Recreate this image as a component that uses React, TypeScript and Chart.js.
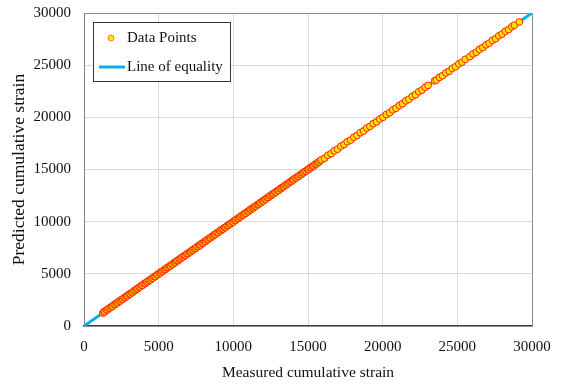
import React, { useEffect, useRef } from "react";
import { Chart, registerables } from "chart.js";

Chart.register(...registerables);

const measured = [
  1260, 1340, 1400, 1500, 1590, 1670, 1750, 1840, 1920, 2010, 2090, 2170, 2260, 2340, 2430, 2510, 2600, 2680, 2760, 2850,
  2930, 3020, 3100, 3190, 3270, 3350, 3440, 3520, 3610, 3690, 3770, 3860, 3940, 4030, 4110, 4190, 4280, 4360, 4450, 4530,
  4620, 4700, 4780, 4870, 4950, 5040, 5120, 5200, 5290, 5370, 5460, 5540, 5630, 5710, 5790, 5880, 5960, 6050, 6130, 6210,
  6300, 6380, 6470, 6550, 6640, 6720, 6800, 6890, 6970, 7060, 7140, 7220, 7310, 7390, 7480, 7560, 7650, 7730, 7810, 7900,
  7980, 8070, 8150, 8230, 8320, 8400, 8490, 8570, 8660, 8740, 8820, 8910, 8990, 9080, 9160, 9240, 9330, 9410, 9500, 9580,
  9670, 9750, 9830, 9920, 10000, 10090, 10170, 10250, 10340, 10420, 10510, 10590, 10680, 10760, 10840, 10930, 11010, 11100, 11180, 11260,
  11350, 11430, 11520, 11600, 11690, 11770, 11850, 11940, 12020, 12110, 12190, 12270, 12360, 12440, 12530, 12610, 12700, 12780, 12860, 12950,
  13030, 13120, 13200, 13280, 13370, 13450, 13540, 13620, 13710, 13790, 13870, 13960, 14040, 14130, 14210, 14290, 14380, 14460, 14550, 14630,
  14720, 14800, 14880, 14970, 15050, 15140, 15220, 15300, 15390, 15470, 15560, 15640, 15730, 15810,
  15900, 16110, 16330, 16540, 16760, 16980, 17200, 17410, 17630, 17850, 18070, 18280, 18500, 18720, 18940, 19150, 19370, 19590, 19810, 20020,
  20240, 20460, 20680, 20890, 21110, 21330, 21550, 21760, 21980, 22200, 22420, 22630, 22850, 23040,
  23480, 23600, 23800, 24010, 24230, 24450, 24660, 24880, 25100, 25310, 25530,
  25840, 26050, 26270, 26480, 26700, 26920, 27130, 27350, 27570, 27780, 28000, 28220, 28430, 28650, 28820, 29150,
];

const predicted = [
  1240, 1370, 1360, 1530, 1570, 1700, 1730, 1860, 1890, 2040, 2070, 2200, 2230, 2370, 2400, 2540, 2570, 2710, 2740, 2880,
  2900, 3050, 3080, 3210, 3240, 3380, 3420, 3550, 3580, 3720, 3750, 3890, 3910, 4060, 4080, 4220, 4250, 4390, 4420, 4560,
  4600, 4730, 4750, 4900, 4920, 5070, 5090, 5230, 5260, 5400, 5430, 5570, 5600, 5740, 5760, 5910, 5930, 6080, 6100, 6240,
  6270, 6410, 6440, 6580, 6610, 6750, 6770, 6920, 6940, 7090, 7110, 7250, 7280, 7420, 7450, 7590, 7620, 7760, 7780, 7930,
  7950, 8100, 8120, 8260, 8290, 8430, 8460, 8600, 8630, 8770, 8790, 8940, 8960, 9110, 9130, 9270, 9300, 9440, 9470, 9610,
  9640, 9780, 9800, 9950, 9970, 10120, 10140, 10280, 10310, 10450, 10480, 10620, 10650, 10790, 10810, 10960, 10980, 11130, 11150, 11290,
  11320, 11460, 11490, 11630, 11660, 11800, 11820, 11970, 11990, 12140, 12160, 12300, 12330, 12470, 12500, 12640, 12670, 12810, 12830, 12980,
  13000, 13150, 13170, 13310, 13340, 13480, 13510, 13650, 13680, 13820, 13840, 13990, 14010, 14160, 14180, 14320, 14350, 14490, 14520, 14660,
  14690, 14830, 14850, 15000, 15020, 15170, 15190, 15330, 15360, 15500, 15530, 15670, 15700, 15840,
  15930, 16080, 16360, 16520, 16790, 16950, 17230, 17390, 17660, 17820, 18100, 18260, 18530, 18690, 18970, 19130, 19400, 19560, 19840, 20000,
  20270, 20430, 20710, 20870, 21140, 21300, 21580, 21740, 22010, 22170, 22450, 22610, 22880, 23060,
  23500, 23580, 23830, 23990, 24260, 24420, 24690, 24850, 25130, 25290, 25560,
  25820, 26080, 26240, 26510, 26680, 26950, 27110, 27380, 27540, 27810, 27980, 28250, 28410, 28680, 28840, 29140,
];

const equalityX = [0, 30000];
const equalityY = [0, 30000];

const seriesNames = ["Data Points", "Line of equality"];
const xTitle = "Measured cumulative strain";
const yTitle = "Predicted cumulative strain";

const FONT = "'Liberation Serif', 'Times New Roman', serif";
const POINT_FILL = "#FFE400";
const POINT_EDGE = "#FF2400";
const LINE_COLOR = "#00B0F0";

const framePlugin = {
  id: "frameAndLegend",
  afterDraw(chart: any) {
    const ctx = chart.ctx as CanvasRenderingContext2D;
    const { left, top, right, bottom } = chart.chartArea;
    ctx.save();
    ctx.strokeStyle = "#8c8c8c";
    ctx.lineWidth = 1;
    ctx.beginPath();
    ctx.moveTo(left, Math.round(top) + 0.5);
    ctx.lineTo(Math.round(right) + 0.5, Math.round(top) + 0.5);
    ctx.lineTo(Math.round(right) + 0.5, bottom);
    ctx.stroke();

    const bx = left + 9.5;
    const by = top + 9.5;
    const bw = 137;
    const bh = 59;
    ctx.fillStyle = "#ffffff";
    ctx.fillRect(bx, by, bw, bh);
    ctx.strokeStyle = "#333333";
    ctx.lineWidth = 1;
    ctx.strokeRect(bx, by, bw, bh);

    ctx.beginPath();
    ctx.arc(left + 27, top + 25, 3, 0, Math.PI * 2);
    ctx.fillStyle = POINT_FILL;
    ctx.fill();
    ctx.strokeStyle = "#FF8040";
    ctx.lineWidth = 1;
    ctx.stroke();

    ctx.beginPath();
    ctx.moveTo(left + 15, top + 54);
    ctx.lineTo(left + 41, top + 54);
    ctx.strokeStyle = LINE_COLOR;
    ctx.lineWidth = 3;
    ctx.stroke();

    ctx.fillStyle = "#111111";
    ctx.font = `15px ${FONT}`;
    ctx.textBaseline = "middle";
    ctx.textAlign = "left";
    ctx.fillText(seriesNames[0], left + 43, top + 25);
    ctx.fillText(seriesNames[1], left + 43, top + 54);
    ctx.restore();
  },
};

const plainTick = (v: any) => String(v);

export default function App() {
  const ref = useRef<HTMLCanvasElement | null>(null);

  useEffect(() => {
    if (!ref.current) return;
    const points = measured.map((m, i) => ({ x: m, y: predicted[i] }));
    const line = equalityX.map((x, i) => ({ x, y: equalityY[i] }));
    const chart = new Chart(ref.current, {
      type: "scatter",
      data: {
        datasets: [
          {
            label: seriesNames[0],
            data: points,
            backgroundColor: POINT_FILL,
            borderColor: POINT_EDGE,
            borderWidth: 1,
            pointRadius: 3.4,
            order: 0,
          },
          {
            label: seriesNames[1],
            data: line,
            showLine: true,
            borderColor: LINE_COLOR,
            backgroundColor: LINE_COLOR,
            borderWidth: 3,
            pointRadius: 0,
            order: 1,
          } as any,
        ],
      },
      options: {
        animation: false,
        responsive: false,
        maintainAspectRatio: false,
        layout: { padding: { left: 0, right: 29, top: 13, bottom: 0 } },
        plugins: {
          legend: { display: false },
          tooltip: { enabled: false },
        },
        scales: {
          x: {
            type: "linear",
            min: 0,
            max: 30000,
            ticks: {
              stepSize: 5000,
              padding: 12,
              color: "#111111",
              font: { family: FONT, size: 15 },
              callback: plainTick,
            },
            grid: { color: "#d9d9d9", drawTicks: false, lineWidth: 1 },
            border: { color: "#404040", width: 1.5 },
            title: {
              display: true,
              text: xTitle,
              color: "#111111",
              font: { family: FONT, size: 15.5 },
              padding: { top: 0, bottom: 5 },
            },
            afterFit(scale: any) {
              scale.height = 61;
              scale.paddingLeft = 0;
              scale.paddingRight = 0;
            },
          },
          y: {
            type: "linear",
            min: 0,
            max: 30000,
            ticks: {
              stepSize: 5000,
              padding: 13,
              color: "#111111",
              font: { family: FONT, size: 15 },
              callback: plainTick,
            },
            grid: { color: "#d9d9d9", drawTicks: false, lineWidth: 1 },
            border: { color: "#7f7f7f", width: 1 },
            title: {
              display: true,
              text: yTitle,
              color: "#111111",
              font: { family: FONT, size: 17.5 },
              padding: { top: 9, bottom: 0 },
            },
            afterFit(scale: any) {
              scale.width = 84;
              scale.paddingTop = 0;
              scale.paddingBottom = 0;
            },
          },
        },
      },
      plugins: [framePlugin],
    });
    return () => chart.destroy();
  }, []);

  return (
    <div style={{ position: "absolute", left: 0, top: 0, width: 561, height: 387, background: "#fff" }}>
      <canvas ref={ref} width={561} height={387} style={{ display: "block", width: 561, height: 387 }} />
    </div>
  );
}
